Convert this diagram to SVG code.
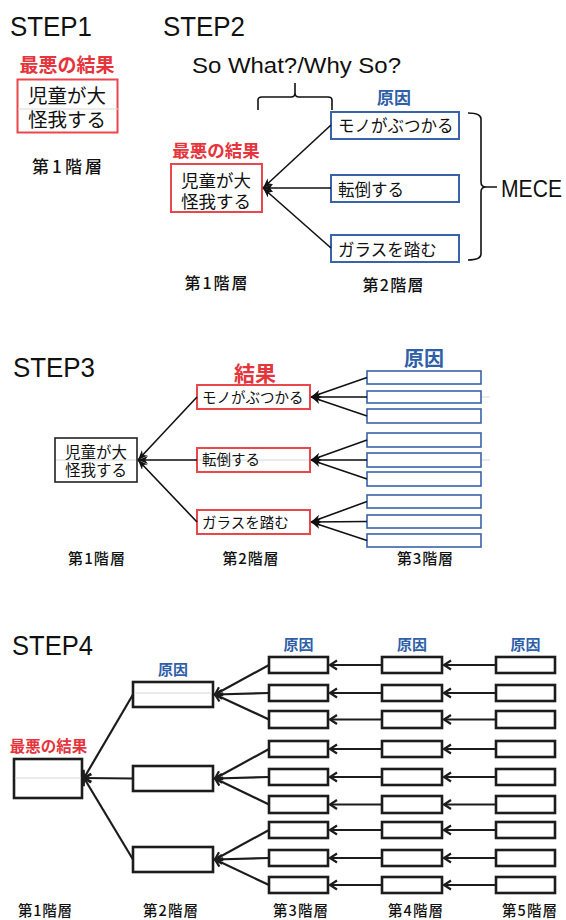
<svg xmlns="http://www.w3.org/2000/svg" width="566" height="920" viewBox="0 0 566 920">
  <style>
    .step { font-family: "Liberation Sans", "DejaVu Sans", sans-serif; font-size: 28px; fill: #111; }
    .latin { font-family: "Liberation Sans", "DejaVu Sans", sans-serif; fill: #111; }
    .jp { font-family: "Noto Sans CJK JP", "Noto Sans", sans-serif; fill: #111; }
    .red { fill: #e6343d; font-weight: bold; }
    .blue { fill: #2f5fa8; font-weight: bold; }
    .lvl { font-weight: 500; }
    .box-red { fill: #fff; stroke: #e8474c; stroke-width: 2; }
    .box-blue { fill: #fff; stroke: #3a62a8; stroke-width: 2; }
    .box-blue-s { fill: #fff; stroke: #3a62a8; stroke-width: 1.6; }
    .box-black { fill: #fff; stroke: #222; stroke-width: 1.6; }
    .box-bold { fill: #fff; stroke: #1c1c1c; stroke-width: 2.6; }
    .guide { stroke: #d8d8d8; stroke-width: 1; fill: none; }
    .edge { stroke: #111; stroke-width: 1.6; fill: none; marker-end: url(#dart); }
    .edge4 { stroke: #1c1c1c; stroke-width: 2.2; fill: none; marker-end: url(#chev); }
    .brace { stroke: #111; stroke-width: 1.6; fill: none; }
  </style>
  <defs>
    <marker id="dart" markerUnits="userSpaceOnUse" markerWidth="12" markerHeight="10" refX="10" refY="4" orient="auto">
      <path d="M0,0 L10,4 L0,8 L3,4 z" fill="#111"/>
    </marker>
    <marker id="chev" markerUnits="userSpaceOnUse" markerWidth="14" markerHeight="12" refX="10" refY="6" orient="auto">
      <path d="M3,1.5 L10,6 L3,10.5" fill="none" stroke="#1c1c1c" stroke-width="2.2"/>
    </marker>
  </defs>

  <!-- ===== STEP1 ===== -->
  <text class="step" x="10" y="36" textLength="82" lengthAdjust="spacingAndGlyphs">STEP1</text>
  <g id="s1-root">
    <text class="jp red" x="67" y="72" font-size="19" text-anchor="middle">最悪の結果</text>
    <rect class="box-red" x="17.5" y="79.5" width="100" height="53"/>
    <line class="guide" x1="18" y1="109" x2="118" y2="109"/>
    <text class="jp" x="67" y="103" font-size="19.5" text-anchor="middle">児童が大</text>
    <text class="jp" x="67" y="127" font-size="19.5" text-anchor="middle">怪我する</text>
  </g>
  <text class="jp lvl" x="67" y="173" font-size="17" text-anchor="middle" textLength="70" lengthAdjust="spacing">第1階層</text>

  <!-- ===== STEP2 ===== -->
  <text class="step" x="163" y="36" textLength="82" lengthAdjust="spacingAndGlyphs">STEP2</text>
  <text class="latin" x="192" y="73" font-size="22" textLength="209" lengthAdjust="spacingAndGlyphs">So What?/Why So?</text>
  <path class="brace" d="M258,110 L258,100 Q258,97 262,97 L291,97 Q295,97 295,93 L295,83 M295,93 Q295,97 299,97 L328,97 Q332,97 332,100 L332,110"/>

  <g id="s2-root">
    <text class="jp red" x="216" y="157" font-size="17.5" text-anchor="middle">最悪の結果</text>
    <rect class="box-red" x="171" y="164" width="91" height="48"/>
    <text class="jp" x="216" y="187" font-size="17.5" text-anchor="middle">児童が大</text>
    <text class="jp" x="216" y="208" font-size="17.5" text-anchor="middle">怪我する</text>
  </g>
  <text class="jp blue" x="394" y="104" font-size="17" text-anchor="middle">原因</text>
  <g id="s2-cause1">
    <rect class="box-blue" x="331" y="112" width="128" height="27"/>
    <text class="jp" x="338" y="132" font-size="16.5">モノがぶつかる</text>
  </g>
  <g id="s2-cause2">
    <rect class="box-blue" x="331" y="175" width="128" height="27"/>
    <text class="jp" x="338" y="196" font-size="16.5">転倒する</text>
  </g>
  <g id="s2-cause3">
    <rect class="box-blue" x="331" y="235" width="128" height="27"/>
    <text class="jp" x="338" y="256" font-size="16.5">ガラスを踏む</text>
  </g>
  <g id="s2-edges">
    <line class="edge" x1="331" y1="125" x2="263" y2="188"/>
    <line class="edge" x1="331" y1="188" x2="263" y2="188"/>
    <line class="edge" x1="331" y1="248" x2="263" y2="188"/>
  </g>
  <path class="brace" d="M468,113 Q481,113 481,119 L481,182 Q481,187 486,187 L497,187 M486,187 Q481,187 481,192 L481,254 Q481,260 468,260"/>
  <text class="latin" x="501" y="197" font-size="23" textLength="61" lengthAdjust="spacingAndGlyphs">MECE</text>
  <text class="jp lvl" x="216" y="289" font-size="16" text-anchor="middle" textLength="63" lengthAdjust="spacing">第1階層</text>
  <text class="jp lvl" x="393" y="291" font-size="16" text-anchor="middle" textLength="61" lengthAdjust="spacing">第2階層</text>

  <!-- ===== STEP3 ===== -->
  <text class="step" x="13" y="377" textLength="82" lengthAdjust="spacingAndGlyphs">STEP3</text>
  <line class="guide" x1="55" y1="460" x2="490" y2="460"/>
  <line class="guide" x1="290" y1="397" x2="490" y2="397"/>
  <g id="s3-root">
    <rect class="box-black" x="55" y="438" width="82" height="44"/>
    <line class="guide" x1="56" y1="460" x2="136" y2="460"/>
    <text class="jp" x="96" y="458" font-size="15.5" text-anchor="middle">児童が大</text>
    <text class="jp" x="96" y="476" font-size="15.5" text-anchor="middle">怪我する</text>
  </g>
  <text class="jp red" x="255" y="381" font-size="21" text-anchor="middle">結果</text>
  <g id="s3-result1">
    <rect class="box-red" x="197" y="385" width="113" height="24"/>
    <text class="jp" x="202" y="403" font-size="14.5">モノがぶつかる</text>
  </g>
  <g id="s3-result2">
    <rect class="box-red" x="197" y="448" width="113" height="24"/>
    <line class="guide" x1="198" y1="460" x2="309" y2="460"/>
    <text class="jp" x="202" y="465" font-size="14.5">転倒する</text>
  </g>
  <g id="s3-result3">
    <rect class="box-red" x="197" y="510" width="113" height="24"/>
    <text class="jp" x="202" y="528" font-size="14.5">ガラスを踏む</text>
  </g>
  <text class="jp blue" x="424" y="366" font-size="20" text-anchor="middle">原因</text>
  <g id="s3-cause1"><rect class="box-blue-s" x="367" y="371" width="114" height="13"/></g>
  <g id="s3-cause2"><rect class="box-blue-s" x="367" y="391" width="114" height="12"/></g>
  <g id="s3-cause3"><rect class="box-blue-s" x="367" y="409" width="114" height="14"/></g>
  <g id="s3-cause4"><rect class="box-blue-s" x="367" y="433" width="114" height="14"/></g>
  <g id="s3-cause5"><rect class="box-blue-s" x="367" y="453" width="114" height="14"/></g>
  <g id="s3-cause6"><rect class="box-blue-s" x="367" y="472" width="114" height="14"/></g>
  <g id="s3-cause7"><rect class="box-blue-s" x="367" y="495" width="114" height="13"/></g>
  <g id="s3-cause8"><rect class="box-blue-s" x="367" y="515" width="114" height="13"/></g>
  <g id="s3-cause9"><rect class="box-blue-s" x="367" y="534" width="114" height="13"/></g>
  <g id="s3-edges">
    <line class="edge" x1="197" y1="397" x2="138" y2="460"/>
    <line class="edge" x1="197" y1="460" x2="138" y2="460"/>
    <line class="edge" x1="197" y1="522" x2="138" y2="460"/>
    <line class="edge" x1="367" y1="377.5" x2="311" y2="397"/>
    <line class="edge" x1="367" y1="397" x2="311" y2="397"/>
    <line class="edge" x1="367" y1="416" x2="311" y2="397"/>
    <line class="edge" x1="367" y1="440" x2="311" y2="460"/>
    <line class="edge" x1="367" y1="460" x2="311" y2="460"/>
    <line class="edge" x1="367" y1="479" x2="311" y2="460"/>
    <line class="edge" x1="367" y1="501.5" x2="311" y2="522"/>
    <line class="edge" x1="367" y1="521.5" x2="311" y2="522"/>
    <line class="edge" x1="367" y1="540.5" x2="311" y2="522"/>
  </g>
  <text class="jp lvl" x="96.5" y="564" font-size="15" text-anchor="middle" textLength="57" lengthAdjust="spacing">第1階層</text>
  <text class="jp lvl" x="250.5" y="564" font-size="15" text-anchor="middle" textLength="56" lengthAdjust="spacing">第2階層</text>
  <text class="jp lvl" x="425" y="564" font-size="15" text-anchor="middle" textLength="56" lengthAdjust="spacing">第3階層</text>

  <!-- ===== STEP4 ===== -->
  <text class="step" x="12" y="655" textLength="81" lengthAdjust="spacingAndGlyphs">STEP4</text>
  <text class="jp blue" x="173" y="675" font-size="15" text-anchor="middle">原因</text>
  <text class="jp blue" x="298.5" y="650" font-size="15" text-anchor="middle">原因</text>
  <text class="jp blue" x="412" y="650" font-size="15" text-anchor="middle">原因</text>
  <text class="jp blue" x="525.5" y="650" font-size="15" text-anchor="middle">原因</text>
  <text class="jp red" x="48.5" y="752" font-size="15.5" text-anchor="middle">最悪の結果</text>

  <g id="s4-root">
    <rect class="box-bold" x="14" y="759" width="68" height="39"/>
    <line class="guide" x1="15" y1="778" x2="81" y2="778"/>
  </g>
  <g id="s4-l2-1"><rect class="box-bold" x="133" y="682" width="80" height="25"/><line class="guide" x1="134" y1="693" x2="212" y2="693"/></g>
  <g id="s4-l2-2"><rect class="box-bold" x="133" y="766" width="80" height="25"/></g>
  <g id="s4-l2-3"><rect class="box-bold" x="133" y="847" width="80" height="25"/></g>

  <g id="s4-l3">
    <rect class="box-bold" x="269" y="657" width="59" height="16"/>
    <rect class="box-bold" x="269" y="685" width="59" height="16"/>
    <rect class="box-bold" x="269" y="711" width="59" height="17"/>
    <rect class="box-bold" x="269" y="741" width="59" height="16"/>
    <rect class="box-bold" x="269" y="769" width="59" height="16"/>
    <rect class="box-bold" x="269" y="796" width="59" height="17"/>
    <rect class="box-bold" x="269" y="822" width="59" height="16"/>
    <rect class="box-bold" x="269" y="850" width="59" height="16"/>
    <rect class="box-bold" x="269" y="877" width="59" height="16"/>
  </g>
  <g id="s4-l4">
    <rect class="box-bold" x="382" y="657" width="60" height="16"/>
    <rect class="box-bold" x="382" y="685" width="60" height="16"/>
    <rect class="box-bold" x="382" y="711" width="60" height="17"/>
    <rect class="box-bold" x="382" y="741" width="60" height="16"/>
    <rect class="box-bold" x="382" y="769" width="60" height="16"/>
    <rect class="box-bold" x="382" y="796" width="60" height="17"/>
    <rect class="box-bold" x="382" y="822" width="60" height="16"/>
    <rect class="box-bold" x="382" y="850" width="60" height="16"/>
    <rect class="box-bold" x="382" y="877" width="60" height="16"/>
  </g>
  <g id="s4-l5">
    <rect class="box-bold" x="496" y="657" width="59" height="16"/>
    <rect class="box-bold" x="496" y="685" width="59" height="16"/>
    <rect class="box-bold" x="496" y="711" width="59" height="17"/>
    <rect class="box-bold" x="496" y="741" width="59" height="16"/>
    <rect class="box-bold" x="496" y="769" width="59" height="16"/>
    <rect class="box-bold" x="496" y="796" width="59" height="17"/>
    <rect class="box-bold" x="496" y="822" width="59" height="16"/>
    <rect class="box-bold" x="496" y="850" width="59" height="16"/>
    <rect class="box-bold" x="496" y="877" width="59" height="16"/>
  </g>

  <g id="s4-edges">
    <line class="edge4" x1="133" y1="694.5" x2="84" y2="778"/>
    <line class="edge4" x1="133" y1="778.5" x2="84" y2="778"/>
    <line class="edge4" x1="133" y1="859.5" x2="84" y2="778"/>

    <line class="edge4" x1="269" y1="665" x2="215" y2="694.5"/>
    <line class="edge4" x1="269" y1="693" x2="215" y2="694.5"/>
    <line class="edge4" x1="269" y1="719.5" x2="215" y2="694.5"/>
    <line class="edge4" x1="269" y1="749" x2="215" y2="778.5"/>
    <line class="edge4" x1="269" y1="777" x2="215" y2="778.5"/>
    <line class="edge4" x1="269" y1="804.5" x2="215" y2="778.5"/>
    <line class="edge4" x1="269" y1="830" x2="215" y2="859.5"/>
    <line class="edge4" x1="269" y1="858" x2="215" y2="859.5"/>
    <line class="edge4" x1="269" y1="885" x2="215" y2="859.5"/>

    <line class="edge4" x1="382" y1="665" x2="330" y2="665"/>
    <line class="edge4" x1="382" y1="693" x2="330" y2="693"/>
    <line class="edge4" x1="382" y1="719.5" x2="330" y2="719.5"/>
    <line class="edge4" x1="382" y1="749" x2="330" y2="749"/>
    <line class="edge4" x1="382" y1="777" x2="330" y2="777"/>
    <line class="edge4" x1="382" y1="804.5" x2="330" y2="804.5"/>
    <line class="edge4" x1="382" y1="830" x2="330" y2="830"/>
    <line class="edge4" x1="382" y1="858" x2="330" y2="858"/>
    <line class="edge4" x1="382" y1="885" x2="330" y2="885"/>

    <line class="edge4" x1="496" y1="665" x2="444" y2="665"/>
    <line class="edge4" x1="496" y1="693" x2="444" y2="693"/>
    <line class="edge4" x1="496" y1="719.5" x2="444" y2="719.5"/>
    <line class="edge4" x1="496" y1="749" x2="444" y2="749"/>
    <line class="edge4" x1="496" y1="777" x2="444" y2="777"/>
    <line class="edge4" x1="496" y1="804.5" x2="444" y2="804.5"/>
    <line class="edge4" x1="496" y1="830" x2="444" y2="830"/>
    <line class="edge4" x1="496" y1="858" x2="444" y2="858"/>
    <line class="edge4" x1="496" y1="885" x2="444" y2="885"/>
  </g>

  <text class="jp lvl" x="45" y="916" font-size="14.5" text-anchor="middle" textLength="54" lengthAdjust="spacing">第1階層</text>
  <text class="jp lvl" x="170.5" y="916" font-size="14.5" text-anchor="middle" textLength="55" lengthAdjust="spacing">第2階層</text>
  <text class="jp lvl" x="300.5" y="916" font-size="14.5" text-anchor="middle" textLength="55" lengthAdjust="spacing">第3階層</text>
  <text class="jp lvl" x="415.5" y="916" font-size="14.5" text-anchor="middle" textLength="55" lengthAdjust="spacing">第4階層</text>
  <text class="jp lvl" x="529.5" y="916" font-size="14.5" text-anchor="middle" textLength="55" lengthAdjust="spacing">第5階層</text>
</svg>
